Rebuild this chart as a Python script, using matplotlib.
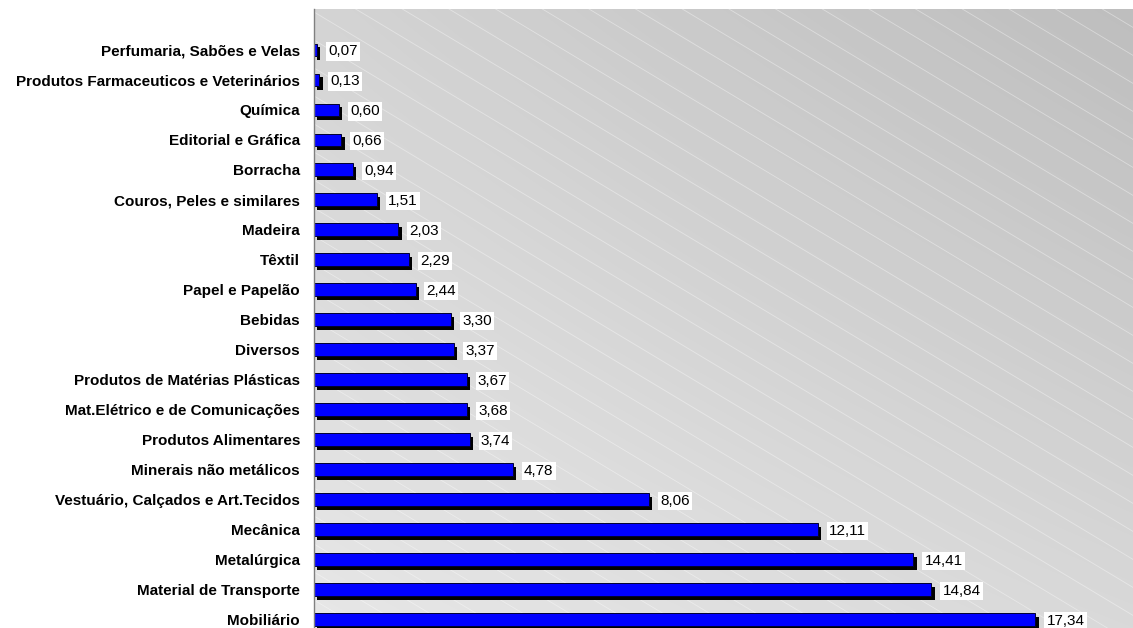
import numpy as np
import matplotlib.pyplot as plt
import matplotlib.patheffects as pe

# categorias (de baixo para cima) e valores (%)
setores = ['Mobiliário', 'Material de Transporte', 'Metalúrgica', 'Mecânica',
           'Vestuário, Calçados e Art.Tecidos', 'Minerais não metálicos',
           'Produtos Alimentares', 'Mat.Elétrico e de Comunicações',
           'Produtos de Matérias Plásticas', 'Diversos', 'Bebidas',
           'Papel e Papelão', 'Têxtil', 'Madeira', 'Couros, Peles e similares',
           'Borracha', 'Editorial e Gráfica', 'Química',
           'Produtos Farmaceuticos e Veterinários', 'Perfumaria, Sabões e Velas']
valores = [17.34, 14.84, 14.41, 12.11, 8.06, 4.78, 3.74, 3.68, 3.67, 3.37,
           3.30, 2.44, 2.29, 2.03, 1.51, 0.94, 0.66, 0.60, 0.13, 0.07]

plt.rcParams['font.family'] = ['Liberation Sans', 'DejaVu Sans']

W, H = 1133, 628
fig = plt.figure(figsize=(W / 100, H / 100), dpi=100)
ax_l, ax_b, ax_w, ax_h = 314, 0, W - 314, H - 9
ax = fig.add_axes([ax_l / W, ax_b / H, ax_w / W, ax_h / H])

# fundo em degradê
u = np.linspace(0, 1, 300)
v = np.linspace(0, 1, 300)
U, V = np.meshgrid(u, v)
g = (231 - 14 * U - 19 * V - 8 * U * V) / 255.0
ax.imshow(np.dstack([g, g, g]), extent=[0, 1, 0, 1], origin='lower',
          transform=ax.transAxes, aspect='auto', zorder=0, interpolation='bilinear')

# linhas diagonais claras
for c in np.arange(0, ax_h + 0.6 * ax_w + 28, 28):
    xs = np.array([0, ax_w])
    ys = c - 0.6 * xs
    ax.plot(xs / ax_w, ys / ax_h, transform=ax.transAxes, color='white',
            lw=0.6, alpha=0.4, zorder=1, clip_on=True)

y = np.arange(len(setores))
bars = ax.barh(y, valores, height=0.43, color='#0000ff', edgecolor='#000030',
               linewidth=0.7, zorder=3)
for b in bars:
    b.set_path_effects([pe.SimplePatchShadow(offset=(2.3, -2.8), shadow_rgbFace='black',
                                             alpha=1.0), pe.Normal()])

for yi, val in zip(y, valores):
    ax.annotate('{:.2f}'.format(val).replace('.', ','), xy=(val, yi),
                xytext=(8, -1), textcoords='offset points', va='center', ha='left',
                fontsize=11, color='black', zorder=4,
                bbox=dict(facecolor='white', edgecolor='none', pad=1.5))

ax.set_xlim(0, (W - 314) / 41.6)
ax.set_ylim(-(628 - 619.5) / 29.95, 19 + (50 - 9) / 29.95)
ax.set_yticks(y)
ax.set_yticklabels(setores, fontsize=11, fontweight='bold')
ax.tick_params(axis='y', length=0, pad=10)
ax.set_xticks([])
for s in ['top', 'right', 'bottom']:
    ax.spines[s].set_visible(False)
ax.spines['left'].set_color('#808080')
ax.spines['left'].set_linewidth(1.0)
ax.spines['left'].set_zorder(5)

fig.savefig('out.png', dpi=100)
